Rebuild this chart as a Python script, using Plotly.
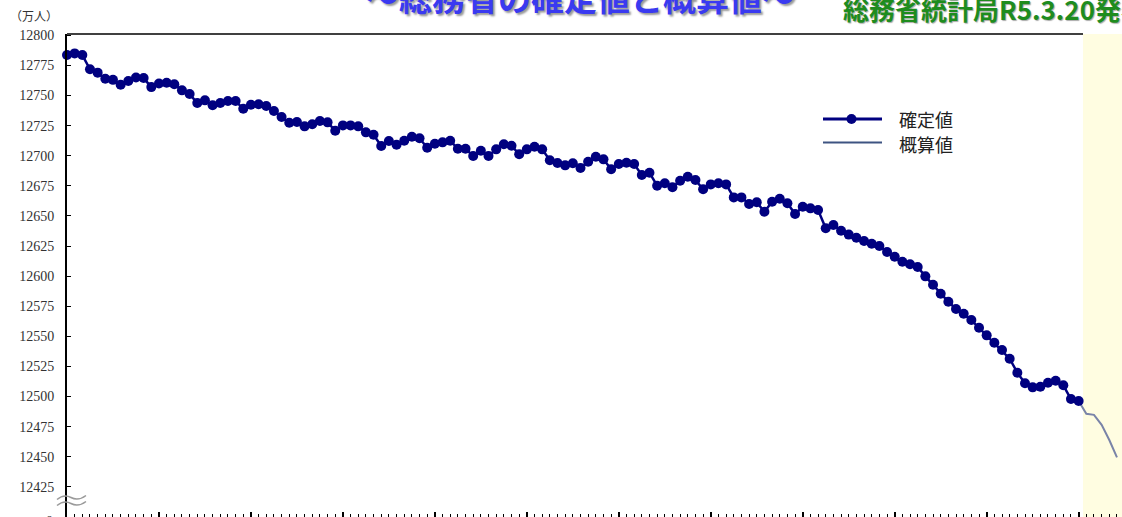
import plotly.graph_objects as go

# ---- data ----
start_year, start_month = 2011, 10
confirmed = [
    12783.6, 12785.0, 12783.6, 12771.8, 12769.0, 12764.0, 12763.0, 12759.0, 12762.0, 12765.0,
    12764.5, 12757.0, 12760.0, 12760.6, 12759.3, 12754.3, 12751.2, 12743.8, 12746.0, 12741.9,
    12743.8, 12745.4, 12745.4, 12739.0, 12742.4, 12742.7, 12741.3, 12737.1, 12732.1, 12727.4,
    12728.0, 12724.4, 12726.1, 12728.8, 12727.7, 12720.8, 12725.2, 12725.2, 12724.4, 12719.4,
    12717.4, 12708.1, 12712.2, 12709.1, 12712.5, 12715.8, 12714.5, 12706.6, 12710.0, 12711.1,
    12712.5, 12705.8, 12705.8, 12699.8, 12704.2, 12699.8, 12705.3, 12709.5, 12708.3, 12701.2,
    12705.3, 12707.5, 12705.3, 12696.2, 12693.9, 12692.0, 12693.7, 12689.8, 12695.0, 12699.2,
    12697.0, 12688.7, 12693.1, 12694.2, 12693.1, 12684.0, 12685.9, 12675.1, 12677.1, 12673.8,
    12679.2, 12682.6, 12679.8, 12672.1, 12676.2, 12677.1, 12676.2, 12665.4, 12665.4, 12659.9,
    12661.3, 12653.5, 12661.8, 12664.3, 12660.5, 12651.6, 12657.6, 12656.3, 12654.9, 12639.7,
    12642.4, 12637.7, 12634.5, 12631.9, 12629.2, 12626.9, 12625.0, 12620.0, 12616.1, 12612.0,
    12609.8, 12607.6, 12599.8, 12592.9, 12585.4, 12578.7, 12572.7, 12568.8, 12563.5, 12557.1,
    12550.8, 12544.7, 12538.6, 12531.4, 12519.8, 12511.0, 12507.6, 12508.1, 12511.5, 12513.1,
    12509.3, 12497.9, 12496.3,
]
estimated = [12496.3, 12485.6, 12484.8, 12476.5, 12463.9, 12449.5]  # 2022-10 .. 2023-03

n_total = len(confirmed) + len(estimated) - 1
months = []
y, m = start_year, start_month
for _ in range(n_total):
    months.append(f"{y}-{m:02d}")
    m += 1
    if m > 12:
        m = 1
        y += 1

conf_months = months[:len(confirmed)]
est_months = months[len(confirmed) - 1:]
idx = {mo: i for i, mo in enumerate(months)}

ytick_vals = list(range(12425, 12801, 25))
ytick_text = [str(v) for v in ytick_vals]
legend_names = ["確定値", "概算値"]

# ---- geometry helpers (pixel -> paper) ----
W, H = 1122, 517
L, R, T, B = 67, 0, 34, 0
PW, PH = W - L - R, H - T - B


def px(xp):
    return (xp - L) / PW


def py(yp):
    return (H - B - yp) / PH


NAVY = "#000080"
EST = "#7A84A8"

fig = go.Figure()
fig.add_trace(go.Scatter(
    x=[idx[mo] for mo in est_months], y=estimated, mode="lines",
    line=dict(color=EST, width=2), name=legend_names[1], cliponaxis=False,
    hoverinfo="skip"))
fig.add_trace(go.Scatter(
    x=[idx[mo] for mo in conf_months], y=confirmed, mode="lines+markers",
    line=dict(color=NAVY, width=2.5), marker=dict(color=NAVY, size=10),
    name=legend_names[0], cliponaxis=False))

shapes = []
# yellow shaded estimate region
shapes.append(dict(type="rect", xref="paper", yref="paper", x0=px(1083), x1=1.02,
                   y0=0, y1=1, fillcolor="#FFFDE1", line=dict(width=0), layer="below"))
# top border
shapes.append(dict(type="line", xref="paper", yref="paper", x0=0, x1=px(1083),
                   y0=1, y1=1, line=dict(color="black", width=1.5)))


def wave(y0):
    pts = [(57, y0 + 2), (64, y0 - 4), (71, y0), (78, y0 + 4), (86, y0 - 2)]
    p = f"M{px(pts[0][0])},{py(pts[0][1])} Q{px(pts[1][0])},{py(pts[1][1])} {px(pts[2][0])},{py(pts[2][1])} "
    p += f"Q{px(pts[3][0])},{py(pts[3][1])} {px(pts[4][0])},{py(pts[4][1])}"
    return p


for yy in (497.5, 503.5):
    shapes.append(dict(type="path", xref="paper", yref="paper", path=wave(yy),
                       line=dict(color="#9A9A9A", width=1.5)))

# manual legend
shapes.append(dict(type="line", xref="paper", yref="paper", x0=px(823), x1=px(882),
                   y0=py(119), y1=py(119), line=dict(color=NAVY, width=3)))
shapes.append(dict(type="circle", xref="paper", yref="paper", x0=px(846.5), x1=px(856.5),
                   y0=py(124), y1=py(114), fillcolor=NAVY, line=dict(color=NAVY, width=0)))
shapes.append(dict(type="line", xref="paper", yref="paper", x0=px(823), x1=px(882),
                   y0=py(142.5), y1=py(142.5), line=dict(color="#3E5482", width=2)))

annotations = [
    dict(text=legend_names[0], xref="paper", yref="paper", x=px(897), y=py(119),
         xanchor="left", yanchor="middle", showarrow=False,
         font=dict(family="Noto Sans CJK JP", size=18, color="#222")),
    dict(text=legend_names[1], xref="paper", yref="paper", x=px(897), y=py(144),
         xanchor="left", yanchor="middle", showarrow=False,
         font=dict(family="Noto Sans CJK JP", size=18, color="#222")),
    dict(text="（万人）", xref="paper", yref="paper", x=px(8), y=py(15),
         xanchor="left", yanchor="middle", showarrow=False,
         font=dict(family="Noto Sans CJK JP", size=12, color="#333")),
    dict(text="0", xref="paper", yref="paper", x=px(55), y=py(521),
         xanchor="right", yanchor="middle", showarrow=False,
         font=dict(family="Liberation Serif", size=14, color="#333")),
    dict(text="〜総務省の確定値と概算値〜", xref="paper", yref="paper", x=px(580), y=py(-3),
         xanchor="center", yanchor="middle", showarrow=False,
         font=dict(family="Noto Sans CJK JP", size=33, color="#3A3AF0", weight="bold",
                   shadow="2px 2px 2px #999")),
    dict(text="総務省統計局R5.3.20発表", xref="paper", yref="paper", x=px(841), y=py(8),
         xanchor="left", yanchor="middle", showarrow=False,
         font=dict(family="Noto Sans CJK JP", size=26, color="#1E8C1E", weight="bold",
                   shadow="1px 1px 1px #aaa")),
]

fig.update_layout(
    width=W, height=H,
    margin=dict(l=L, r=R, t=T, b=B, pad=0),
    paper_bgcolor="white", plot_bgcolor="rgba(0,0,0,0)",
    showlegend=False,
    shapes=shapes, annotations=annotations,
    xaxis=dict(range=[0, (W - L) / 7.664], showgrid=False, zeroline=False,
               showline=True, linecolor="black", linewidth=2,
               tickmode="linear", tick0=0, dtick=12, ticks="inside", ticklen=5,
               tickwidth=2, tickcolor="black", showticklabels=False,
               minor=dict(tick0=0, dtick=1, ticks="inside", ticklen=3, tickwidth=1,
                          tickcolor="black")),
    yaxis=dict(range=[12801.1 - PH / 1.204, 12801.1], showgrid=False, zeroline=False,
               showline=True, linecolor="black", linewidth=2,
               tickmode="array", tickvals=ytick_vals, ticktext=ytick_text,
               ticks="inside", ticklen=4, tickcolor="black", ticklabelstandoff=8,
               tickfont=dict(family="Liberation Serif", size=14, color="#333")),
)

fig.write_html("out.html")
